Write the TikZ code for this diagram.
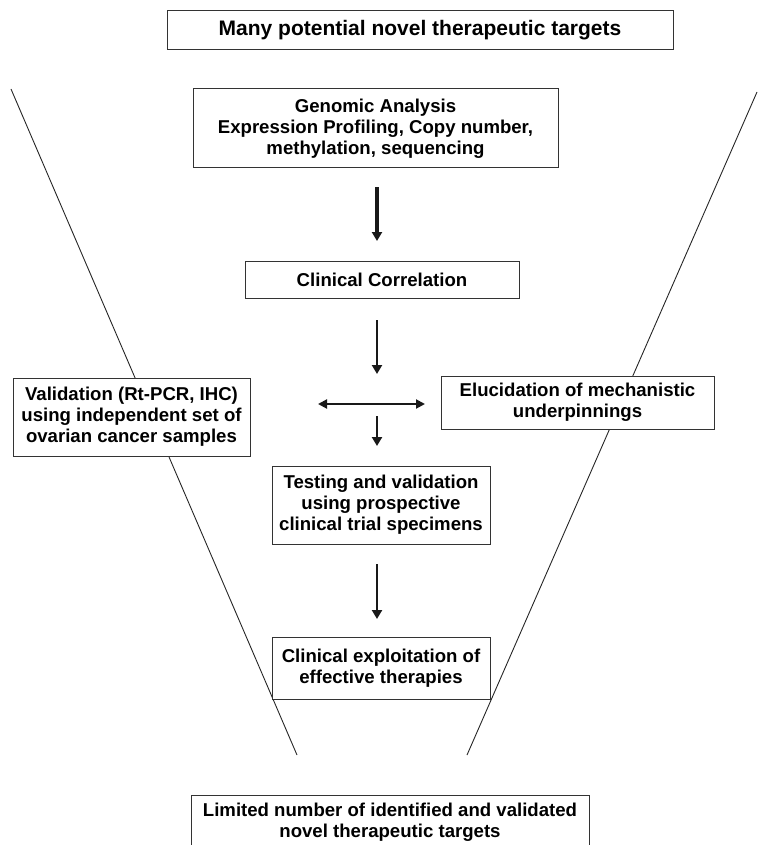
\documentclass[tikz,border=0pt]{standalone}
\usepackage{fontspec}
\setmainfont{Liberation Sans}
\usetikzlibrary{arrows.meta}
\begin{document}
\begin{tikzpicture}[x=1pt,y=-1pt,
  box/.style={draw=black!80,line width=1pt,fill=white,align=center,inner sep=0pt,
    font=\fontsize{18.6}{21}\selectfont\bfseries},
  bigbox/.style={box,font=\fontsize{21}{24}\selectfont\bfseries},
  funnel/.style={draw=black!85,line width=0.9pt},
  arr/.style={draw=black!90,line width=2.7pt,-{Triangle[width=10pt,length=9pt]}},
  thickarr/.style={arr,line width=3.6pt},
  darr/.style={draw=black!90,line width=2pt,{Triangle[width=9pt,length=9pt]}-{Triangle[width=9pt,length=9pt]}}]
\useasboundingbox (0,0) rectangle (758,845);
% funnel
\coordinate (fl1) at (11,89);
\coordinate (fl2) at (297,755);
\coordinate (fr1) at (757,92);
\coordinate (fr2) at (467,755);
\draw[funnel] (fl1) -- (fl2);
\draw[funnel] (fr1) -- (fr2);
% boxes
\node[bigbox,minimum width=506pt,minimum height=39pt] (top) at (420,30.5) {Many potential novel therapeutic targets};
\node[box,minimum width=365pt,minimum height=79pt] (gen) at (375.5,128.5) {Genomic Analysis\\Expression Profiling, Copy number,\\methylation, sequencing};
\node[box,minimum width=274pt,minimum height=37pt] (clin) at (382,279.5) {Clinical Correlation};
\node[box,minimum width=237pt,minimum height=78pt] (val) at (131.5,417) {Validation (Rt-PCR, IHC)\\using independent set of\\ovarian cancer samples};
\node[box,minimum width=273pt,minimum height=53pt] (elu) at (577.5,402.5) {Elucidation of mechanistic\\underpinnings};
\node[box,minimum width=218pt,minimum height=78pt] (test) at (381,505) {Testing and validation\\using prospective\\clinical trial specimens};
\node[box,minimum width=218pt,minimum height=62pt] (expl) at (381,668) {Clinical exploitation of\\effective therapies};
\node[box,minimum width=398pt,inner ysep=8pt,anchor=north] (lim) at (390,795) {Limited number of identified and validated\\novel therapeutic targets};
% arrows
\coordinate (a1s) at (377,187);
\coordinate (a1e) at (377,241);
\coordinate (a2s) at (377,320);
\coordinate (a2e) at (377,374);
\coordinate (a3s) at (377,416);
\coordinate (a3e) at (377,446);
\coordinate (a4s) at (377,564);
\coordinate (a4e) at (377,619);
\coordinate (dl) at (318,404);
\coordinate (dr) at (425,404);
\draw[thickarr] (a1s) -- (a1e);
\draw[arr] (a2s) -- (a2e);
\draw[arr] (a3s) -- (a3e);
\draw[arr] (a4s) -- (a4e);
\draw[darr] (dl) -- (dr);
\end{tikzpicture}
\end{document}
